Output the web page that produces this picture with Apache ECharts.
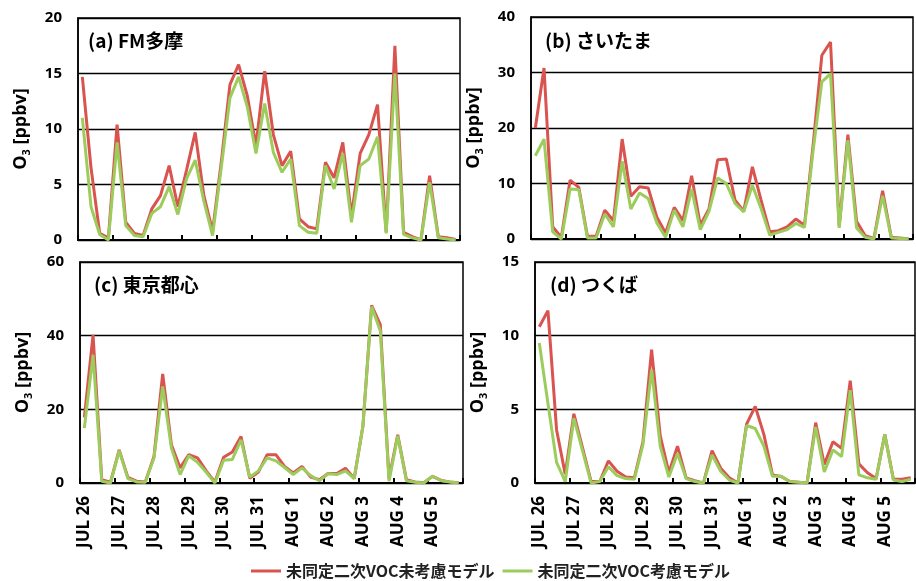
<!DOCTYPE html>
<html>
<head>
<meta charset="utf-8">
<script src="https://cdn.jsdelivr.net/npm/echarts@6/dist/echarts.min.js"></script>
<style>
html, body { margin: 0; padding: 0; background: #fff; }
#main { width: 916px; height: 581px; }
</style>
</head>
<body>
<div id="main"></div>
<script>
// days on the x axis, 4 values per day (6-hourly)
var days = ['JUL 26', 'JUL 27', 'JUL 28', 'JUL 29', 'JUL 30', 'JUL 31', 'AUG 1', 'AUG 2', 'AUG 3', 'AUG 4', 'AUG 5'];
var hours = ['03', '09', '15', '21'];

var seriesNames = ['未同定二次VOC未考慮モデル', '未同定二次VOC考慮モデル'];
var panelTitles = ['(a) FM多摩', '(b) さいたま', '(c) 東京都心', '(d) つくば'];
var yMax = [20, 40, 60, 15];
var yStep = [5, 10, 20, 5];

// (a) FM多摩
var tamaRed = [14.7, 6.5, 0.6, 0.2, 10.4, 1.6, 0.6, 0.4, 2.8, 4.0, 6.7, 3.0, 6.3, 9.7, 4.0, 0.8, 7.0, 14.0, 15.8, 13.0, 8.5, 15.2, 9.5, 6.7, 8.0, 1.9, 1.2, 1.0, 7.0, 5.6, 8.8, 2.2, 7.8, 9.5, 12.2, 0.7, 17.5, 0.7, 0.3, 0.0, 5.8, 0.3, 0.2, 0.05];
var tamaGreen = [11.0, 3.0, 0.5, 0.0, 8.8, 1.3, 0.4, 0.3, 2.4, 3.0, 4.8, 2.3, 5.5, 7.2, 3.5, 0.4, 6.5, 12.8, 14.7, 12.0, 7.8, 12.3, 7.9, 6.1, 7.3, 1.3, 0.7, 0.6, 6.7, 4.6, 7.8, 1.6, 6.7, 7.3, 9.3, 0.6, 15.0, 0.5, 0.2, 0.0, 5.2, 0.2, 0.1, 0.0];
// (b) さいたま
var saitamaRed = [20.0, 30.8, 2.2, 0.3, 10.6, 9.3, 0.5, 0.5, 5.2, 3.3, 18.0, 7.7, 9.4, 9.2, 3.9, 1.1, 5.7, 3.3, 11.4, 2.5, 5.4, 14.3, 14.4, 7.0, 5.0, 13.0, 7.0, 1.3, 1.5, 2.2, 3.6, 2.5, 17.0, 33.1, 35.5, 2.3, 18.8, 3.2, 0.6, 0.1, 8.7, 0.3, 0.2, 0.0];
var saitamaGreen = [15.0, 18.0, 1.3, 0.0, 9.0, 8.9, 0.2, 0.2, 4.5, 2.2, 14.0, 5.4, 8.3, 7.3, 2.9, 0.3, 5.2, 2.2, 9.0, 1.7, 5.0, 11.0, 10.0, 6.4, 4.9, 9.7, 5.5, 0.7, 1.2, 1.7, 2.8, 2.1, 16.0, 28.3, 29.8, 2.0, 17.8, 2.0, 0.3, 0.0, 7.8, 0.2, 0.1, 0.0];
// (c) 東京都心
var tokyoRed = [17.8, 40.2, 0.9, 0.2, 9.0, 1.5, 0.5, 0.3, 7.2, 29.6, 10.4, 4.1, 7.7, 6.8, 3.3, 0.3, 7.0, 8.4, 12.6, 1.3, 3.0, 7.7, 7.7, 4.5, 2.7, 4.5, 1.6, 0.9, 2.6, 2.6, 4.0, 1.2, 15.4, 48.2, 43.0, 1.2, 13.1, 0.9, 0.3, 0.1, 1.8, 0.7, 0.3, 0.1];
var tokyoGreen = [14.9, 34.8, 0.5, 0.0, 8.8, 1.2, 0.3, 0.2, 6.8, 26.2, 9.5, 2.3, 7.4, 5.6, 2.9, 0.0, 6.2, 6.4, 11.7, 1.6, 3.3, 6.8, 6.0, 4.2, 2.3, 4.1, 2.0, 0.6, 2.5, 2.3, 3.3, 1.2, 15.4, 47.9, 41.3, 0.5, 12.8, 0.6, 0.2, 0.0, 1.9, 0.6, 0.3, 0.0];
// (d) つくば
var tsukubaRed = [10.6, 11.7, 3.6, 0.6, 4.7, 2.4, 0.1, 0.1, 1.5, 0.8, 0.4, 0.35, 2.8, 9.05, 3.2, 0.7, 2.5, 0.35, 0.15, 0.0, 2.2, 1.0, 0.35, 0.0, 4.0, 5.2, 3.3, 0.55, 0.45, 0.1, 0.05, 0.0, 4.1, 1.25, 2.8, 2.35, 6.95, 1.3, 0.7, 0.3, 3.3, 0.25, 0.25, 0.35];
var tsukubaGreen = [9.5, 5.4, 1.4, 0.1, 4.4, 2.2, 0.0, 0.1, 1.1, 0.5, 0.3, 0.25, 2.6, 7.7, 2.5, 0.4, 2.0, 0.3, 0.1, 0.0, 1.9, 0.8, 0.2, 0.0, 3.9, 3.7, 2.5, 0.45, 0.45, 0.1, 0.05, 0.0, 3.8, 0.75, 2.25, 1.8, 6.3, 0.55, 0.35, 0.25, 3.3, 0.2, 0.1, 0.25];

var redSets = [tamaRed, saitamaRed, tokyoRed, tsukubaRed];
var greenSets = [tamaGreen, saitamaGreen, tokyoGreen, tsukubaGreen];

var categories = [];
for (var d = 0; d < days.length; d++) {
    for (var h = 0; h < hours.length; h++) {
        categories.push(days[d] + ' ' + hours[h]);
    }
}

var RED = '#d9534f';
var GREEN = '#9ccc5c';
var FONT = '"Open Sans", "Noto Sans CJK JP", sans-serif';

var grids = [
    { left: 78, top: 18, width: 382, height: 222 },
    { left: 531, top: 17, width: 382, height: 222 },
    { left: 80, top: 262, width: 383, height: 221 },
    { left: 535, top: 262, width: 380, height: 221 }
];
var titlePos = [[83, 26], [540, 26], [89, 270], [545, 270]];

var option = {
    animation: false,
    backgroundColor: '#fff',
    grid: [],
    xAxis: [],
    yAxis: [],
    series: [],
    title: [],
    legend: {
        data: seriesNames,
        left: 246,
        top: 558,
        icon: 'rect',
        itemWidth: 30,
        itemHeight: 3,
        itemGap: 8,
        textStyle: {
            fontFamily: '"Noto Sans CJK JP", sans-serif',
            fontSize: 16,
            fontWeight: 'bold',
            color: '#222'
        }
    }
};

for (var i = 0; i < 4; i++) {
    var g = grids[i];
    option.grid.push({
        left: g.left, top: g.top, width: g.width, height: g.height,
        show: true, borderColor: '#000', borderWidth: 1.5,
        containLabel: false
    });
    option.xAxis.push({
        type: 'category',
        gridIndex: i,
        data: categories,
        boundaryGap: true,
        axisLine: { show: true, lineStyle: { color: '#000', width: 2 } },
        axisTick: { show: true, inside: true, length: 5, interval: 3, alignWithLabel: false,
            lineStyle: { color: '#000', width: 2 } },
        axisLabel: {
            show: i >= 2,
            interval: 3,
            rotate: 90,
            margin: 13,
            fontFamily: FONT,
            fontSize: 17,
            fontWeight: 'bold',
            color: '#000',
            formatter: function(v) {
                var p = v.split(' ');
                return p[0] + ' ' + p[1];
            }
        },
        splitLine: { show: false }
    });
    option.yAxis.push({
        type: 'value',
        gridIndex: i,
        min: 0,
        max: yMax[i],
        interval: yStep[i],
        name: '{o|O}{s|3}{o| [ppbv]}',
        nameLocation: 'middle',
        nameGap: 46,
        nameTextStyle: {
            rich: {
                o: { fontFamily: FONT, fontSize: 18, fontWeight: 'bold', color: '#000', lineHeight: 22 },
                s: { fontFamily: FONT, fontSize: 11, fontWeight: 'bold', color: '#000', lineHeight: 22,
                    verticalAlign: 'bottom', padding: [8, 0, 0, 0] }
            }
        },
        axisLine: { show: true, lineStyle: { color: '#000', width: 1.5 } },
        axisTick: { show: false },
        axisLabel: {
            margin: 16,
            fontFamily: FONT,
            fontSize: 15,
            fontWeight: 'bold',
            color: '#000'
        },
        splitLine: { show: true, lineStyle: { color: '#000', width: 1.3 } }
    });
    option.title.push({
        text: panelTitles[i],
        left: titlePos[i][0],
        top: titlePos[i][1],
        textStyle: {
            fontFamily: '"Noto Sans CJK JP", sans-serif',
            fontSize: 19,
            fontWeight: 'bold',
            color: '#000'
        }
    });
    option.series.push({
        name: seriesNames[0],
        type: 'line',
        xAxisIndex: i,
        yAxisIndex: i,
        data: redSets[i],
        symbol: 'none',
        color: RED,
        lineStyle: { color: RED, width: 3 }
    });
    option.series.push({
        name: seriesNames[1],
        type: 'line',
        xAxisIndex: i,
        yAxisIndex: i,
        data: greenSets[i],
        symbol: 'none',
        color: GREEN,
        lineStyle: { color: GREEN, width: 3 }
    });
}

var myChart = echarts.init(document.getElementById('main'), null, { renderer: 'canvas' });
myChart.setOption(option);
</script>
</body>
</html>
